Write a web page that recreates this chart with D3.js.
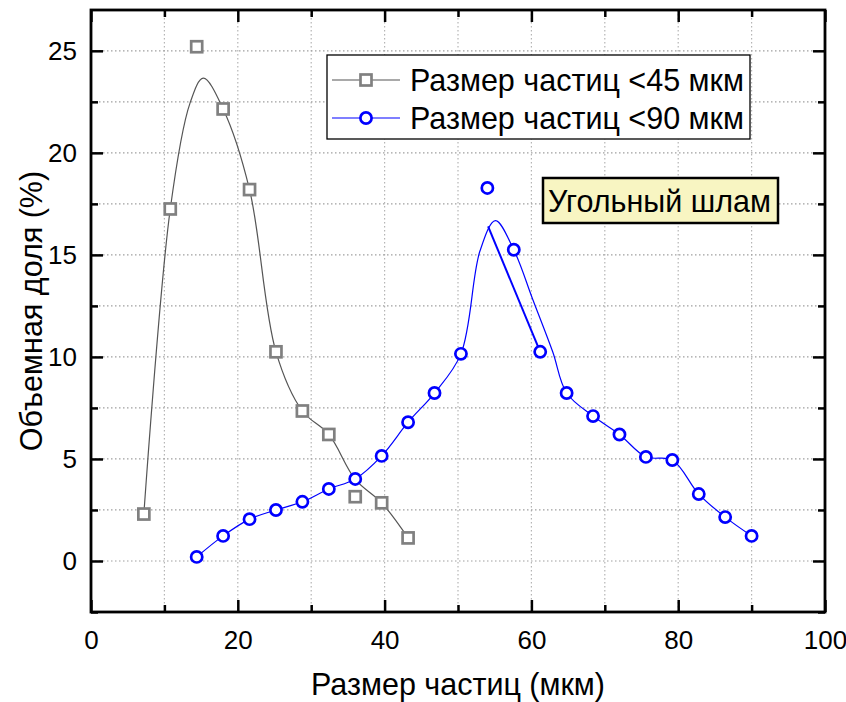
<!DOCTYPE html>
<html>
<head>
<meta charset="utf-8">
<script src="https://cdn.jsdelivr.net/npm/d3@7/dist/d3.min.js"></script>
<style>
  html, body { margin: 0; padding: 0; background: #fff; }
  svg { display: block; font-family: "Liberation Sans", Arial, sans-serif; }
</style>
</head>
<body>
<svg id="chart" width="846" height="702"></svg>
<script>
// Measured particle-size distributions (x: size, µm; y: volume fraction, %)
const sizes45 = [7.2, 10.8, 14.4, 18.0, 21.6, 25.2, 28.8, 32.4, 36.0, 39.6, 43.2];
const values45 = [2.3, 17.25, 25.2, 22.15, 18.2, 10.25, 7.35, 6.2, 3.15, 2.85, 1.13];

const sizes90 = [14.4, 18.0, 21.6, 25.2, 28.8, 32.4, 36.0, 39.6, 43.2, 46.8, 50.4,
                 54.0, 57.6, 61.2, 64.8, 68.4, 72.0, 75.6, 79.2, 82.8, 86.4, 90.0];
const values90 = [0.2, 1.23, 2.05, 2.5, 2.9, 3.53, 4.02, 5.15, 6.8, 8.23, 10.15,
                  18.28, 15.25, 10.25, 8.23, 7.1, 6.2, 5.1, 4.95, 3.28, 2.15, 1.23];

// Smoothed distribution curves
const curve45X = [7.2, 10.8, 13.5, 15.3, 18.0, 21.6, 25.2, 28.8, 32.4, 36.0, 39.6, 43.2];
const curve45Y = [2.3, 17.25, 22.45, 23.66, 22.15, 18.2, 10.25, 7.35, 6.2, 4.0, 2.85, 1.13];

const curve90X = [14.4, 18.0, 21.6, 25.2, 28.8, 32.4, 36.0, 39.6, 43.2, 46.8, 50.4,
                  53.0, 55.1, 57.6, 60.2, 62.9, 64.8, 68.4, 72.0, 75.6, 79.2, 82.8, 86.4, 90.0];
const curve90Y = [0.2, 1.23, 2.05, 2.5, 2.9, 3.53, 4.02, 5.15, 6.8, 8.23, 10.15,
                  15.2, 16.68, 15.25, 12.8, 10.25, 8.23, 7.1, 6.2, 5.1, 4.95, 3.28, 2.15, 1.23];

// Direct connection from the peak to the falling branch
const peakLinkX = [54.1, 61.2];
const peakLinkY = [16.4, 10.25];

const xTicks = [0, 20, 40, 60, 80, 100];
const yTicks = [0, 5, 10, 15, 20, 25];
const seriesNames = ["Размер частиц <45 мкм", "Размер частиц <90 мкм"];
const noteText = "Угольный шлам";
const xTitle = "Размер частиц (мкм)";
const yTitle = "Объемная доля (%)";

const svg = d3.select("#chart");
const plotL = 91, plotR = 825, plotT = 10, plotB = 612;

const x = d3.scaleLinear().domain([0, 100]).range([plotL, plotR]);
const y = d3.scaleLinear().domain([-2.5, 27]).range([plotB, plotT]);

const GRAY = "#808080", GRAY_LINE = "#555", BLUE = "#0000ff";
const FONT = "'Liberation Sans', Arial, sans-serif";

// Dotted grid at major and minor positions
const xGrid = d3.range(10, 100, 10);
const yGrid = d3.range(0, 27, 2.5);
const grid = svg.append("g");
grid.selectAll("line.vx").data(xGrid).join("line").attr("class", "vx")
  .attr("x1", d => x(d)).attr("x2", d => x(d))
  .attr("y1", plotT).attr("y2", plotB)
  .attr("stroke", "#b5b5b5").attr("stroke-width", 1.2).attr("stroke-dasharray", "1.5,2.5");
grid.selectAll("line.hy").data(yGrid).join("line").attr("class", "hy")
  .attr("y1", d => y(d)).attr("y2", d => y(d))
  .attr("x1", plotL).attr("x2", plotR)
  .attr("stroke", "#a0a0a0").attr("stroke-width", 1.2).attr("stroke-dasharray", "1.5,2.5");

// Axes with inward ticks on all four sides
function addAxis(axisGen, transform) {
  const g = svg.append("g").attr("transform", transform).call(axisGen);
  g.select(".domain").remove();
  g.selectAll(".tick line").attr("stroke", "#000").attr("stroke-width", 2.5);
  return g;
}
const xMinor = d3.range(10, 100, 20);
const yMinor = d3.range(-2.5, 27, 5);

addAxis(d3.axisBottom(x).tickValues(xTicks).tickSize(-12).tickPadding(19).tickFormat(d3.format("d")),
  `translate(0,${plotB})`)
  .selectAll("text").attr("font-size", 26).attr("fill", "#000").attr("font-family", FONT);
addAxis(d3.axisBottom(x).tickValues(xMinor).tickSize(-7).tickFormat(""), `translate(0,${plotB})`);
addAxis(d3.axisTop(x).tickValues(xTicks).tickSize(-12).tickFormat(""), `translate(0,${plotT})`);
addAxis(d3.axisTop(x).tickValues(xMinor).tickSize(-7).tickFormat(""), `translate(0,${plotT})`);

addAxis(d3.axisLeft(y).tickValues(yTicks).tickSize(-12).tickPadding(14).tickFormat(d3.format("d")),
  `translate(${plotL},0)`)
  .selectAll("text").attr("font-size", 26).attr("fill", "#000").attr("font-family", FONT);
addAxis(d3.axisLeft(y).tickValues(yMinor).tickSize(-7).tickFormat(""), `translate(${plotL},0)`);
addAxis(d3.axisRight(y).tickValues(yTicks).tickSize(-12).tickFormat(""), `translate(${plotR},0)`);
addAxis(d3.axisRight(y).tickValues(yMinor).tickSize(-7).tickFormat(""), `translate(${plotR},0)`);

// Frame
svg.append("rect").attr("x", plotL).attr("y", plotT)
  .attr("width", plotR - plotL).attr("height", plotB - plotT)
  .attr("fill", "none").attr("stroke", "#000").attr("stroke-width", 2.8);

// Curves
const zip = (xs, ys) => xs.map((v, i) => [v, ys[i]]);
const smooth = d3.line().x(d => x(d[0])).y(d => y(d[1])).curve(d3.curveCatmullRom.alpha(0.5));
const straight = d3.line().x(d => x(d[0])).y(d => y(d[1]));

svg.append("path").attr("d", smooth(zip(curve45X, curve45Y)))
  .attr("fill", "none").attr("stroke", GRAY_LINE).attr("stroke-width", 1.2);
svg.append("path").attr("d", smooth(zip(curve90X, curve90Y)))
  .attr("fill", "none").attr("stroke", BLUE).attr("stroke-width", 1.2);
svg.append("path").attr("d", straight(zip(peakLinkX, peakLinkY)))
  .attr("fill", "none").attr("stroke", BLUE).attr("stroke-width", 2);

// Markers
const sq = 11;
svg.append("g").selectAll("rect").data(zip(sizes45, values45)).join("rect")
  .attr("x", d => x(d[0]) - sq / 2).attr("y", d => y(d[1]) - sq / 2)
  .attr("width", sq).attr("height", sq)
  .attr("fill", "#fff").attr("stroke", GRAY).attr("stroke-width", 2.7);
svg.append("g").selectAll("circle").data(zip(sizes90, values90)).join("circle")
  .attr("cx", d => x(d[0])).attr("cy", d => y(d[1])).attr("r", 5.6)
  .attr("fill", "#fff").attr("stroke", BLUE).attr("stroke-width", 2.7);

// Legend
const lg = svg.append("g");
lg.append("rect").attr("x", 327).attr("y", 55).attr("width", 423).attr("height", 84)
  .attr("fill", "#fff").attr("stroke", "#000").attr("stroke-width", 1.3);
const rows = [80, 118];
lg.append("line").attr("x1", 332).attr("x2", 400).attr("y1", rows[0]).attr("y2", rows[0])
  .attr("stroke", GRAY_LINE).attr("stroke-width", 1.2);
lg.append("rect").attr("x", 366 - sq / 2).attr("y", rows[0] - sq / 2).attr("width", sq).attr("height", sq)
  .attr("fill", "#fff").attr("stroke", GRAY).attr("stroke-width", 2.7);
lg.append("line").attr("x1", 332).attr("x2", 400).attr("y1", rows[1]).attr("y2", rows[1])
  .attr("stroke", BLUE).attr("stroke-width", 1.2);
lg.append("circle").attr("cx", 366).attr("cy", rows[1]).attr("r", 5.6)
  .attr("fill", "#fff").attr("stroke", BLUE).attr("stroke-width", 2.7);
lg.selectAll("text").data(seriesNames).join("text")
  .attr("x", 410).attr("y", (d, i) => rows[i] + 11)
  .attr("font-size", 30.5).attr("fill", "#000").text(d => d);

// Annotation
svg.append("rect").attr("x", 543).attr("y", 178).attr("width", 235).attr("height", 45)
  .attr("fill", "#f8f5c2").attr("stroke", "#000").attr("stroke-width", 2.5);
svg.append("text").attr("x", 548).attr("y", 212).attr("font-size", 30.5).attr("fill", "#000").text(noteText);

// Axis titles
svg.append("text").attr("x", 458).attr("y", 695)
  .attr("text-anchor", "middle").attr("font-size", 30.5).attr("fill", "#000").text(xTitle);
svg.append("text").attr("transform", "translate(42,311) rotate(-90)")
  .attr("text-anchor", "middle").attr("font-size", 30.5).attr("fill", "#000").text(yTitle);
</script>
</body>
</html>
